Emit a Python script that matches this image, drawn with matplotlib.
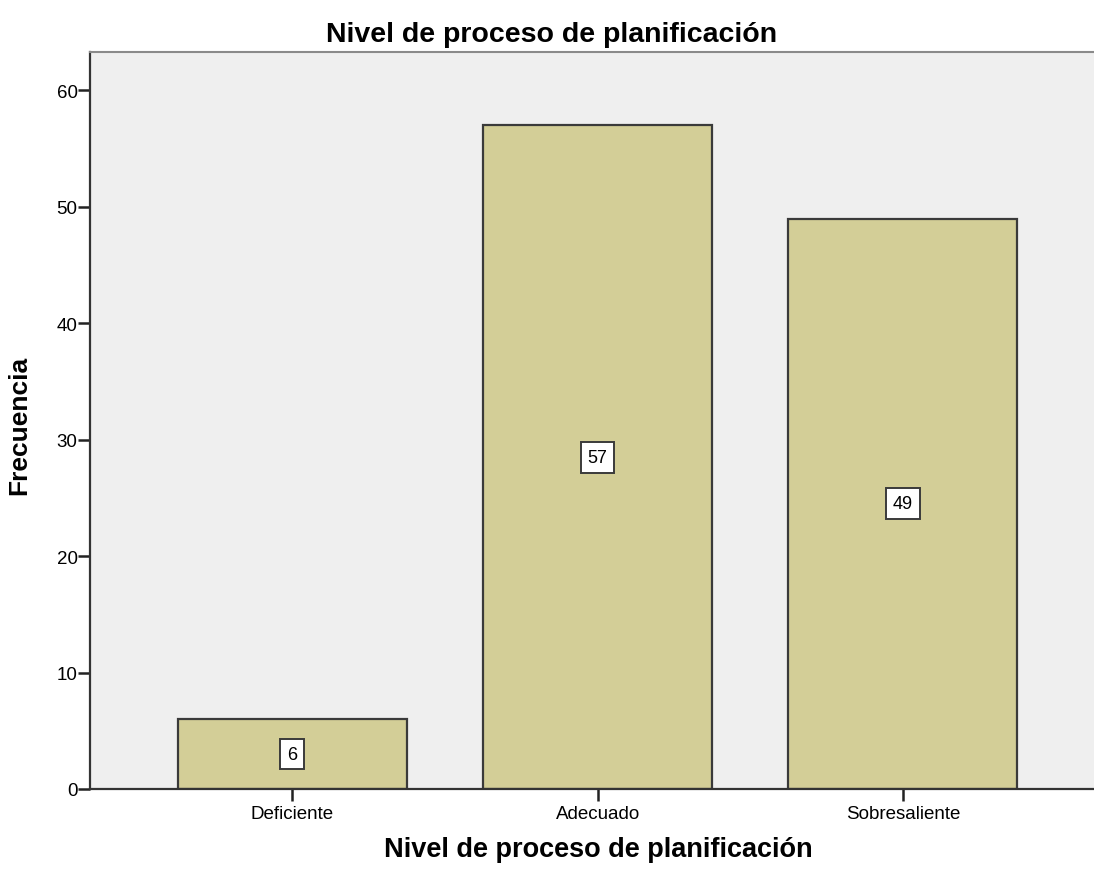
import numpy as np
import matplotlib
matplotlib.use("Agg")
import matplotlib.pyplot as plt

plt.rcParams['font.family'] = ['Liberation Sans', 'DejaVu Sans']

categorias = ["Deficiente", "Adecuado", "Sobresaliente"]
frecuencias = [6, 57, 49]
y_ticks = [0, 10, 20, 30, 40, 50, 60]

fig = plt.figure(figsize=(10.94, 8.70), dpi=100)
ax = fig.add_axes([0.0823, 0.092, 0.9177, 0.847])
ax.set_facecolor("#efefef")

x = np.arange(len(categorias))
ax.bar(x, frecuencias, width=0.75, color="#d3ce97", edgecolor="#3a3a3a", linewidth=1.6, zorder=2)

# etiquetas de valor en el centro de cada barra
for xi, v in zip(x, frecuencias):
    ax.text(xi, v / 2, str(v), ha="center", va="center", fontsize=13, zorder=3,
            bbox=dict(boxstyle="square,pad=0.38", facecolor="white", edgecolor="#3a3a3a", linewidth=1.4))

ax.set_xlim(-0.663, 2.626)
ax.set_ylim(0, 63.3)
ax.set_xticks(x)
ax.set_xticklabels(categorias, fontsize=13.5)
ax.set_yticks(y_ticks)
ax.tick_params(axis="both", labelsize=13.5, direction="out", length=8.5, width=1.8, color="#222222")
ax.tick_params(axis="x", pad=3)
ax.tick_params(axis="y", pad=0.5)

for side in ["left", "bottom"]:
    ax.spines[side].set_linewidth(1.6)
    ax.spines[side].set_color("#333333")
ax.spines["top"].set_color("#8a8a8a")
ax.spines["top"].set_linewidth(1.5)
ax.spines["right"].set_visible(False)

# el titulo va centrado en la figura, no en los ejes
ax.set_title("Nivel de proceso de planificación", fontsize=20.5, fontweight="bold", pad=8, x=0.46)
ax.set_xlabel("Nivel de proceso de planificación", fontsize=19.5, fontweight="bold")
ax.set_ylabel("Frecuencia", fontsize=19, fontweight="bold")
ax.xaxis.set_label_coords(0.506, -0.064)
ax.yaxis.set_label_coords(-0.059, 0.495)

fig.savefig("out.png", dpi=100)
